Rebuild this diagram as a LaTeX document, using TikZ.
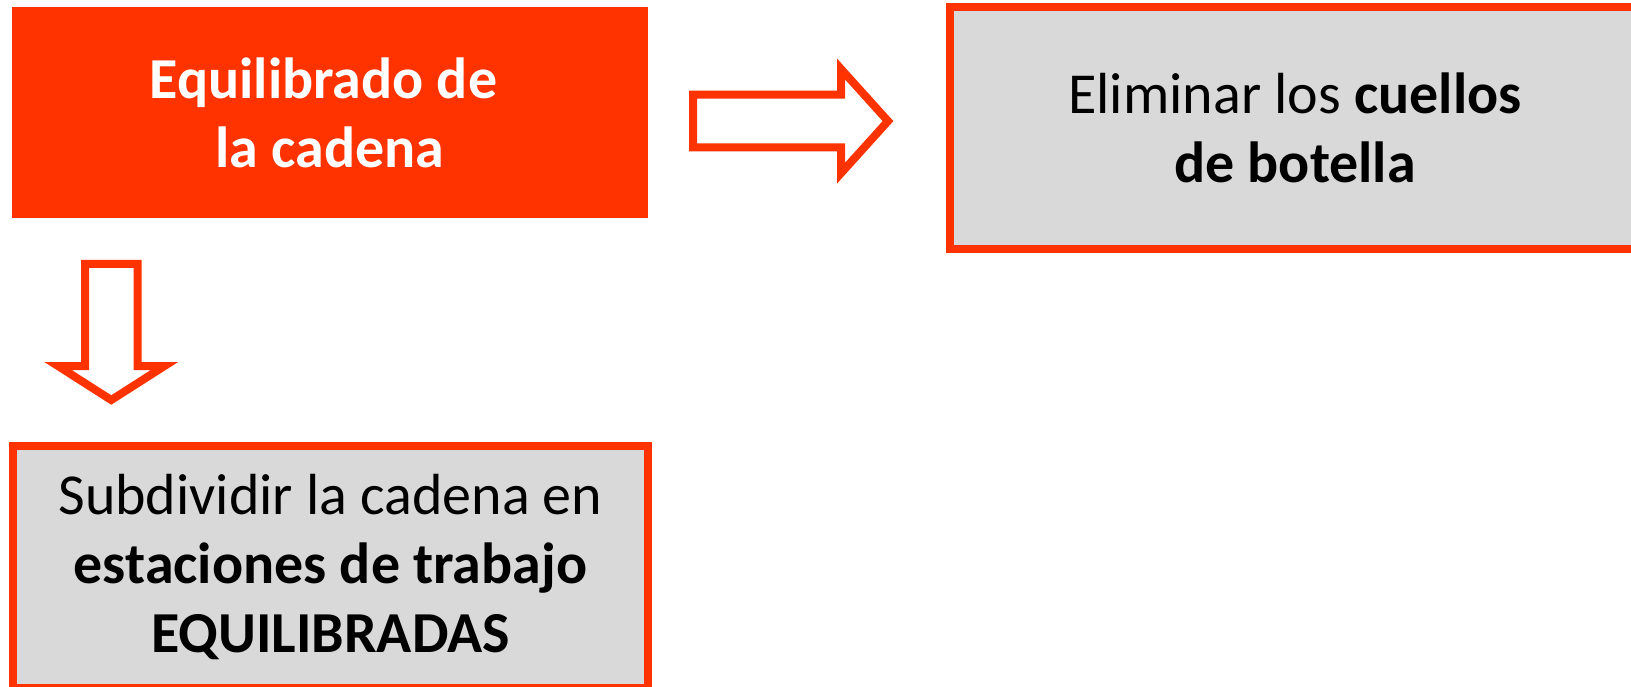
\documentclass[tikz,border=0pt]{standalone}
\usepackage{fontspec}
\setmainfont{Carlito}
\definecolor{accent}{HTML}{FF3300}
\definecolor{panel}{HTML}{D9D9D9}
\begin{document}
\begin{tikzpicture}[x=1pt,y=-1pt,
  boxtext/.style={align=center,font=\fontsize{58}{69}\selectfont,inner sep=0pt},
  solidbox/.style={boxtext,rectangle,fill=accent,text=white,draw=none},
  framedbox/.style={boxtext,rectangle,fill=panel,draw=accent,line width=8pt,text=black},
  blockarrow/.style={draw=accent,fill=white,line width=8pt,line join=miter}]
  \useasboundingbox (0,0) rectangle (1631,687);

  % main topic (first line keeps its trailing space)
  \node[solidbox,minimum width=636pt,minimum height=211pt] (topic) at (330,112.5)
    {\bfseries Equilibrado de\hspace*{0.226em}\\\bfseries la cadena};

  % consequence on the right
  \node[framedbox,minimum width=690pt,minimum height=241.5pt] (neck) at (1295,128.25)
    {Eliminar los \textbf{cuellos}\\\textbf{de botella}};

  % consequence below
  \node[framedbox,minimum width=635pt,minimum height=242pt] (split) at (330.5,567)
    {Subdividir la cadena en\\\textbf{estaciones de trabajo}\\\textbf{EQUILIBRADAS}};

  % hollow block arrows
  \draw[blockarrow] (693,94.7) -- (841,94.7) -- (841,69) -- (888,121.1)
    -- (841,173.2) -- (841,147.5) -- (693,147.5) -- cycle;
  \draw[blockarrow] (85,264) -- (137.5,264) -- (137.5,366) -- (164.5,366)
    -- (111.25,400) -- (58,366) -- (85,366) -- cycle;
\end{tikzpicture}
\end{document}
